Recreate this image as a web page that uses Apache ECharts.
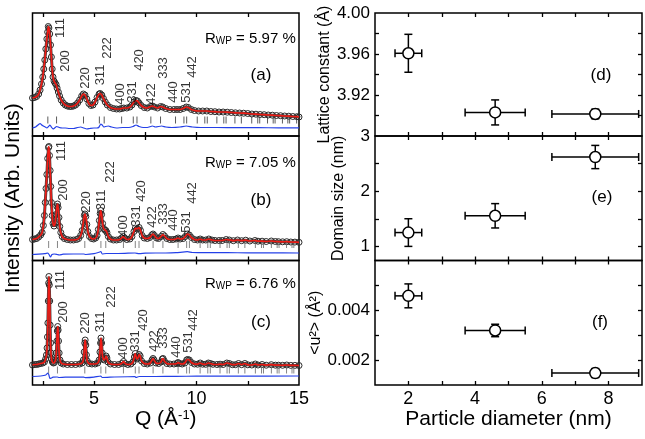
<!DOCTYPE html>
<html><head><meta charset="utf-8">
<script src="https://cdn.jsdelivr.net/npm/echarts@6/dist/echarts.min.js"></script>
<style>html,body{margin:0;padding:0;background:#fff}#c{width:645px;height:439px}</style>
</head><body><div id="c"></div>
<script>
// ---------- Left panels: diffraction patterns (intensity in arb. units) ----------
const obsA = [[2.0,38],[2.1,38.5],[2.2,39.5],[2.3,42],[2.37,46],[2.44,52],[2.5,59],[2.55,67],[2.6,76],[2.65,87],[2.7,97],[2.74,104],[2.77,109.5],[2.8,108],[2.84,102],[2.88,91],[2.92,79],[2.96,67],[3.0,59],[3.05,55],[3.1,53],[3.15,51.5],[3.2,48],[3.26,44],[3.32,40],[3.4,36],[3.5,33],[3.6,31],[3.7,30],[3.8,29.5],[3.9,29.5],[4.0,30],[4.1,31],[4.2,33],[4.3,36],[4.4,40],[4.48,42],[4.56,41],[4.65,37],[4.75,32.5],[4.85,30.5],[4.95,31],[5.05,34],[5.15,38.5],[5.25,42],[5.3,42.5],[5.38,41],[5.46,37.5],[5.55,34],[5.65,31],[5.8,28.5],[5.95,27.5],[6.1,27],[6.25,27],[6.35,27.5],[6.45,28],[6.6,28],[6.75,29],[6.85,31],[6.95,34],[7.05,35.5],[7.12,35],[7.2,33],[7.3,30.5],[7.45,28.5],[7.6,28],[7.75,29.5],[7.85,30],[7.95,29],[8.1,28],[8.25,29.5],[8.35,29],[8.5,27.5],[8.7,26.5],[8.9,26.5],[9.05,26.5],[9.2,26.5],[9.35,27.5],[9.5,29],[9.6,28.5],[9.75,26.5],[9.9,25.5],[10.1,25],[10.3,25],[10.5,25],[10.7,24.5],[10.9,24.3],[11.1,24],[11.3,24],[11.5,23.8],[11.7,23.5],[11.9,23.2],[12.1,23],[12.3,22.8],[12.5,22.5],[12.7,22],[12.9,21.8],[13.1,21.5],[13.3,21.3],[13.5,21],[13.7,20.8],[13.9,20.5],[14.1,20.3],[14.3,20],[14.5,19.8],[14.7,19.5],[14.9,19.3],[15.0,19]];
const obsB = [[2.0,21],[2.1,21.5],[2.2,22],[2.3,23.5],[2.4,25.5],[2.47,28],[2.53,35],[2.58,45],[2.62,58],[2.66,72],[2.7,86],[2.74,102],[2.78,113],[2.8,114],[2.83,105],[2.86,90],[2.89,74],[2.92,58],[2.96,45],[3.0,37],[3.05,34.5],[3.1,37],[3.15,46],[3.19,54],[3.22,56.5],[3.25,53],[3.29,43],[3.33,34],[3.38,28],[3.45,24],[3.55,22],[3.7,21],[3.85,20.5],[4.0,20.5],[4.15,21],[4.25,22],[4.35,25],[4.42,30],[4.48,38],[4.53,45],[4.56,46.5],[4.6,44],[4.65,36],[4.7,29],[4.78,24],[4.88,22],[4.98,21.5],[5.08,22.5],[5.15,25],[5.21,31],[5.26,40],[5.3,47],[5.33,50],[5.37,46],[5.42,37],[5.47,32],[5.53,30.5],[5.58,30],[5.63,28],[5.7,24],[5.8,21.5],[5.95,20.5],[6.1,20.5],[6.25,21],[6.35,22.5],[6.43,24],[6.5,22.5],[6.6,21],[6.75,21.5],[6.85,24],[6.95,29],[7.02,32.5],[7.1,31.5],[7.2,33],[7.27,30],[7.35,25],[7.45,22.5],[7.6,22],[7.72,23],[7.82,25.5],[7.88,26.5],[7.95,25],[8.05,22.5],[8.15,22],[8.27,24],[8.36,26],[8.44,24.5],[8.55,22],[8.7,21],[8.85,21],[9.0,21.5],[9.1,22.5],[9.2,21.5],[9.35,22],[9.45,24],[9.55,26.5],[9.65,25.5],[9.75,23],[9.9,21],[10.05,20.5],[10.18,21.5],[10.3,20.5],[10.45,20.5],[10.6,21.5],[10.75,20.5],[10.9,20],[11.1,20],[11.25,20],[11.45,21],[11.6,20.5],[11.8,19.8],[12.0,20.5],[12.2,19.8],[12.4,20.3],[12.6,19.5],[12.85,20],[13.0,19.3],[13.2,19.3],[13.4,19],[13.65,19.5],[13.85,19],[14.0,18.8],[14.2,18.7],[14.4,18.8],[14.6,18.5],[14.8,18.4],[15.0,18.2]];
const obsC = [[2.0,20],[2.1,20.5],[2.2,20.5],[2.3,21],[2.4,21.5],[2.5,22],[2.58,23],[2.64,26],[2.68,30],[2.71,37],[2.73,48],[2.75,62],[2.77,84],[2.79,102],[2.8,108.5],[2.82,100],[2.84,84],[2.86,60],[2.88,42],[2.9,32],[2.93,26],[2.97,23],[3.02,22],[3.07,22.5],[3.12,25],[3.16,32],[3.19,44],[3.21,54],[3.23,58.5],[3.25,55],[3.27,44],[3.3,32],[3.34,25],[3.4,22],[3.5,21],[3.7,20.5],[3.9,20.5],[4.1,20.5],[4.3,21],[4.42,22],[4.48,25],[4.52,33],[4.55,42],[4.57,45],[4.6,40],[4.63,30],[4.67,24],[4.75,21.5],[4.9,21],[5.05,21],[5.18,22],[5.25,25],[5.29,33],[5.32,42],[5.34,47],[5.37,42],[5.4,32],[5.45,26],[5.5,25],[5.55,27],[5.59,29],[5.63,27],[5.68,23],[5.8,21],[6.0,20.5],[6.2,20.5],[6.35,21.5],[6.44,23.5],[6.52,21.5],[6.65,20.5],[6.8,21],[6.9,23],[6.97,28],[7.01,31.5],[7.06,28],[7.1,26],[7.15,27],[7.2,30.5],[7.25,29],[7.32,24],[7.45,21.5],[7.6,21],[7.75,22],[7.83,25],[7.88,26.5],[7.93,25],[8.02,22],[8.15,21.5],[8.27,23],[8.33,26],[8.37,26.5],[8.43,24],[8.55,21.5],[8.7,21],[8.9,21],[9.05,21.5],[9.1,22.5],[9.18,21.5],[9.3,21],[9.43,22],[9.52,25],[9.57,25.5],[9.65,25],[9.75,22.5],[9.9,21],[10.05,20.8],[10.18,22],[10.3,20.8],[10.45,20.7],[10.58,22],[10.68,21.5],[10.8,20.7],[11.0,20.5],[11.15,20.8],[11.3,20.5],[11.48,22],[11.6,21.5],[11.75,20.3],[11.9,20.3],[12.05,21.5],[12.2,20.3],[12.36,21.5],[12.5,20.2],[12.7,20],[12.87,21],[13.0,20],[13.2,20.5],[13.4,19.8],[13.65,20.3],[13.85,19.8],[14.0,19.8],[14.2,19.7],[14.4,20],[14.6,19.6],[14.8,19.6],[15.0,19.5]];

const diffA = [[2.0,8],[2.15,9],[2.3,11.5],[2.37,12.5],[2.45,11],[2.53,10],[2.62,9],[2.7,8],[2.78,9.5],[2.85,11],[2.92,9],[3.0,7],[3.08,8],[3.18,9.5],[3.3,8.5],[3.45,8],[3.6,8],[3.8,7.5],[4.0,7.5],[4.2,8.5],[4.35,9],[4.5,8],[4.65,7],[4.8,7.5],[5.0,8],[5.15,8],[5.25,9],[5.33,12],[5.4,11],[5.48,9],[5.56,9.5],[5.7,10],[5.85,9],[6.1,8],[6.4,8.5],[6.7,8.5],[6.9,9.5],[7.05,11],[7.2,9.5],[7.4,8.5],[7.6,8.5],[7.85,10],[8.0,9],[8.3,10],[8.5,9],[8.8,8.5],[9.2,9],[9.5,10],[9.8,9],[10.2,8.5],[11,8.5],[12,8.3],[13,8.3],[14,8.2],[15,8.2]];
const diffB = [[2.0,6],[2.3,6.3],[2.6,6.8],[2.75,7.5],[2.82,5.5],[2.88,3.5],[2.95,6],[3.05,6.5],[3.2,6],[3.3,5.5],[3.5,6.3],[4.0,6.5],[4.5,6.5],[4.6,6],[5.0,6.8],[5.28,8.5],[5.34,9],[5.4,6.5],[5.6,7],[6.0,7],[6.5,7.2],[7.0,7.5],[7.2,6.8],[7.5,7.3],[8.0,7.5],[8.5,7.5],[9.0,7.8],[9.55,8.8],[9.8,8],[10.5,7.8],[11.5,7.8],[12.5,7.7],[13.5,7.6],[15,7.5]];
const diffC = [[2.0,8.5],[2.4,9],[2.65,10],[2.75,12],[2.8,10],[2.85,6.5],[2.92,7],[3.0,7.8],[3.2,8],[3.3,7.5],[3.6,7.8],[4.5,7.8],[4.6,7.3],[5.0,7.8],[5.33,9],[5.4,7.5],[6.0,8],[7.0,8.5],[7.05,7.5],[7.2,8.5],[8.0,8.5],[9.0,8.7],[10,8.8],[12,8.9],[15,9]];

// Bragg reflection positions (Q)
const braggA = [2.748,3.173,4.488,5.262,5.497,6.347,6.916,7.096,7.773,8.245,8.976,9.387,9.520,10.036,10.405,10.525,10.993,11.331,11.442,11.874,12.188,12.694,12.988,13.084,13.464,13.741,13.833,14.192,14.456,14.543,14.885];
const braggBC = [2.787,3.218,4.551,5.337,5.574,6.436,7.014,7.196,7.883,8.361,9.102,9.519,9.654,10.177,10.551,10.673,11.148,11.491,11.603,12.041,12.359,12.872,13.171,13.268,13.653,13.935,14.027,14.392,14.659,14.747];

// hkl labels: [Q, height]
const hklNames = ['111','200','220','311','222','400','331','420','422','333','440','531','442'];
const hklPosA = [[3.34,108],[3.59,75],[4.56,58],[5.33,61],[5.65,88],[6.30,42],[6.87,44],[7.24,76],[7.81,42],[8.38,68],[8.87,44],[9.52,44],[9.81,69]];
const hklPosB = [[3.39,109.5],[3.50,70.5],[4.61,58.5],[5.38,60.5],[5.78,88.5],[6.43,34.5],[7.05,44.5],[7.33,69.5],[7.86,43.5],[8.38,46.5],[8.87,40.5],[9.52,38.5],[9.81,67.5]];
const hklPosC = [[3.38,105],[3.50,73],[4.56,62],[5.33,63],[5.86,88],[6.43,37],[7.0,44],[7.40,65],[7.93,44],[8.41,47],[9.03,38],[9.63,43],[9.84,65]];

const rwp = ['5.97', '7.05', '6.76'];
const qTicks = [2.5, 5, 7.5, 10, 12.5];
const qLabels = [5, 10, 15];

// ---------- Right panels ----------
const diam = [2.0, 4.6, 7.6];
const diamErr = [0.4, 0.9, 1.3];
const latt = [3.9607, 3.903, 3.9015];
const lattErr = [0.0185, 0.0122, 0.0047];
const domain = [1.255, 1.558, 2.62];
const domainErr = [0.25, 0.22, 0.21];
const u2 = [0.00458, 0.00319, 0.00148];
const u2Err = [0.00048, 0.00025, 0.00018];

const dTicks = [2,3,4,5,6,7,8], dLabels = [2,4,6,8];
const lattTicks = [3.90,3.92,3.94,3.96,3.98], lattLabels = [3.92,3.96,4.00];
const domTicks = [1,1.5,2,2.5], domLabels = [1,2,3];
const u2Ticks = [0.002,0.003,0.004,0.005], u2Labels = [0.002,0.004];

const FONT = "'Liberation Sans', Arial, Helvetica, sans-serif";
const chart = echarts.init(document.getElementById('c'), null, {renderer:'canvas'});

const LX = 32.5, LW = 266.5, RX = 375, RW = 267;
const tops = [13, 136, 260.5], hs = [123, 124.5, 124.5];
const grids = [];
for (let i=0;i<3;i++) grids.push({left:LX, top:tops[i], width:LW, height:hs[i], show:true, borderColor:'#000', borderWidth:1.5, backgroundColor:'transparent'});
for (let i=0;i<3;i++) grids.push({left:RX, top:tops[i], width:RW, height:hs[i], show:true, borderColor:'#000', borderWidth:1.5, backgroundColor:'transparent'});

const tickStyle = {color:'#000', width:1.3};
function xAx(gi, pos, min, max, ticks, labels, showLab, fmt) {
  return {gridIndex:gi, type:'value', position:pos, min:min, max:max,
    axisLine:{show:false}, splitLine:{show:false},
    axisTick:{show:true, inside:true, length:4, customValues:ticks, lineStyle:tickStyle},
    axisLabel:{show:showLab, customValues:labels, fontSize:18, color:'#000', fontFamily:FONT, margin:5, formatter: fmt || (v=>String(v))}};
}
function yAx(gi, pos, min, max, ticks, labels, showLab, fmt, showTick) {
  return {gridIndex:gi, type:'value', position:pos, min:min, max:max,
    axisLine:{show:false}, splitLine:{show:false},
    axisTick:{show:showTick, inside:true, length:4, customValues:ticks, lineStyle:tickStyle},
    axisLabel:{show:showLab, customValues:labels, fontSize:17, color:'#000', fontFamily:FONT, margin:5, formatter: fmt || (v=>String(v))}};
}

const xAxes = [], yAxes = [];
for (let i=0;i<3;i++) {
  xAxes.push(xAx(i,'bottom',2,15,qTicks,qLabels,i===2));
  xAxes.push(xAx(i,'top',2,15,qTicks,qLabels,false));
}
for (let i=0;i<3;i++) {
  xAxes.push(xAx(3+i,'bottom',1,9,dTicks,dLabels,i===2));
  xAxes.push(xAx(3+i,'top',1,9,dTicks,dLabels,false));
}
for (let i=0;i<3;i++) yAxes.push(yAx(i,'left',0,hs[i],[],[],false,null,false));
yAxes[1].name = 'Intensity (Arb. Units)';
yAxes[1].nameLocation = 'middle'; yAxes[1].nameGap = 9;
yAxes[1].nameTextStyle = {fontSize:21, fontFamily:FONT, color:'#000'};
xAxes[4].name = '{a|Q (Å}{s|-1}{a|)}';
xAxes[4].nameLocation = 'middle'; xAxes[4].nameGap = 22;
xAxes[4].nameTextStyle = {fontFamily:FONT, color:'#000', rich:{a:{fontSize:21, fontFamily:FONT, color:'#000'}, s:{fontSize:13, fontFamily:FONT, color:'#000', verticalAlign:'top'}}};
xAxes[10].name = 'Particle diameter (nm)';
xAxes[10].nameLocation = 'middle'; xAxes[10].nameGap = 22;
xAxes[10].nameTextStyle = {fontSize:21, fontFamily:FONT, color:'#000'};
const f2 = v=>v.toFixed(2), f3 = v=>v.toFixed(3);
const rSpec = [
  [3.88,4.00,lattTicks,lattLabels,f2,'Lattice constant (Å)',36],
  [0.75,3,domTicks,domLabels,null,'Domain size (nm)',28],
  [0.001,0.006,u2Ticks,u2Labels,f3,'<u²> (Å²)',44]
];
const rYIdx = [];
rSpec.forEach((s,i)=>{
  const a = yAx(3+i,'left',s[0],s[1],s[2],s[3],true,s[4],true);
  a.name = s[5]; a.nameLocation='middle'; a.nameGap=s[6];
  a.nameTextStyle = {fontSize:16, fontFamily:FONT, color:'#000'};
  rYIdx.push(yAxes.length); yAxes.push(a);
  yAxes.push(yAx(3+i,'right',s[0],s[1],s[2],s[3],false,s[4],true));
});

const series = [];
const obsList = [obsA, obsB, obsC], diffList = [diffA, diffB, diffC];
const braggList = [braggA, braggBC, braggBC], hklList = [hklPosA, hklPosB, hklPosC];
const tickY = [16, 16, 15];
for (let i=0;i<3;i++) {
  const xi = i*2, yi = i;
  // dense observed band
  series.push({type:'line', xAxisIndex:xi, yAxisIndex:yi, data:obsList[i], symbol:'none',
    lineStyle:{color:'#444', width:3}, z:1, silent:true});
  series.push({type:'line', xAxisIndex:xi, yAxisIndex:yi, data:obsList[i], symbol:'circle', symbolSize:6, showSymbol:true,
    lineStyle:{width:0}, itemStyle:{color:'rgba(0,0,0,0)', borderColor:'#2a2a2a', borderWidth:1}, z:2, silent:true});
  series.push({type:'line', xAxisIndex:xi, yAxisIndex:yi, data:obsList[i], symbol:'none', smooth:0.2,
    lineStyle:{color:'#ee1c16', width:1.7}, z:4, silent:true});
  series.push({type:'line', xAxisIndex:xi, yAxisIndex:yi, data:diffList[i], symbol:'none', smooth:0.2,
    lineStyle:{color:'#2440e8', width:1.2}, z:3, silent:true});
  series.push({type:'scatter', xAxisIndex:xi, yAxisIndex:yi, data:braggList[i].map(q=>[q,tickY[i]]), symbol:'rect', symbolSize:[1,7],
    itemStyle:{color: i===0 ? '#333' : '#666'}, z:3, silent:true});
  series.push({type:'scatter', xAxisIndex:xi, yAxisIndex:yi, symbolSize:0, silent:true, z:5,
    data:hklList[i].map((p,k)=>({name:hklNames[k], value:p})),
    label:{show:true, formatter:'{b}', rotate:90, position:'inside', fontSize:13, fontFamily:FONT, color:'#000'}});
}

function errRender(params, api) {
  const x=api.value(0), y=api.value(1), xe=api.value(2), ye=api.value(3);
  const pL=api.coord([x-xe,y]), pR=api.coord([x+xe,y]), pB=api.coord([x,y-ye]), pT=api.coord([x,y+ye]);
  const c=4, st={stroke:'#000', lineWidth:1.5};
  return {type:'group', children:[
    {type:'line', shape:{x1:pL[0],y1:pL[1],x2:pR[0],y2:pR[1]}, style:st},
    {type:'line', shape:{x1:pL[0],y1:pL[1]-c,x2:pL[0],y2:pL[1]+c}, style:st},
    {type:'line', shape:{x1:pR[0],y1:pR[1]-c,x2:pR[0],y2:pR[1]+c}, style:st},
    {type:'line', shape:{x1:pB[0],y1:pB[1],x2:pT[0],y2:pT[1]}, style:st},
    {type:'line', shape:{x1:pB[0]-c,y1:pB[1],x2:pB[0]+c,y2:pB[1]}, style:st},
    {type:'line', shape:{x1:pT[0]-c,y1:pT[1],x2:pT[0]+c,y2:pT[1]}, style:st}
  ]};
}
const rVals = [[latt,lattErr],[domain,domainErr],[u2,u2Err]];
rVals.forEach((v,i)=>{
  const xi = 6+i*2, yi = rYIdx[i];
  series.push({type:'custom', xAxisIndex:xi, yAxisIndex:yi, renderItem:errRender, clip:false, silent:true, z:3,
    data: diam.map((d,k)=>[d, v[0][k], diamErr[k], v[1][k]])});
  series.push({type:'scatter', xAxisIndex:xi, yAxisIndex:yi, symbol:'circle', symbolSize:11, silent:true, z:4,
    itemStyle:{color:'#fff', borderColor:'#000', borderWidth:1.5, opacity:1},
    data: diam.map((d,k)=>[d, v[0][k]])});
});

const graphic = [];
const rwpY = [40, 164, 285];
rwp.forEach((r,i)=>{
  graphic.push({type:'text', left:205, top:rwpY[i]-9, silent:true, style:{
    text:'{r|R}{s|WP}{r| = '+r+' %}', rich:{r:{fontSize:15, fontFamily:FONT, fill:'#000'}, s:{fontSize:10, fontFamily:FONT, fill:'#000', verticalAlign:'bottom'}}}});
});
const pLab = [['(a)',261,75],['(b)',261,200],['(c)',261,322],['(d)',601,75],['(e)',602,197],['(f)',600,322]];
pLab.forEach(p=>{
  graphic.push({type:'text', x:p[1], y:p[2], silent:true, style:{text:p[0], fontSize:17, fontFamily:FONT, fill:'#000', align:'center', verticalAlign:'middle'}});
});

chart.setOption({animation:false, backgroundColor:'#fff', textStyle:{fontFamily:FONT},
  grid:grids, xAxis:xAxes, yAxis:yAxes, series:series, graphic:graphic});
</script></body></html>
